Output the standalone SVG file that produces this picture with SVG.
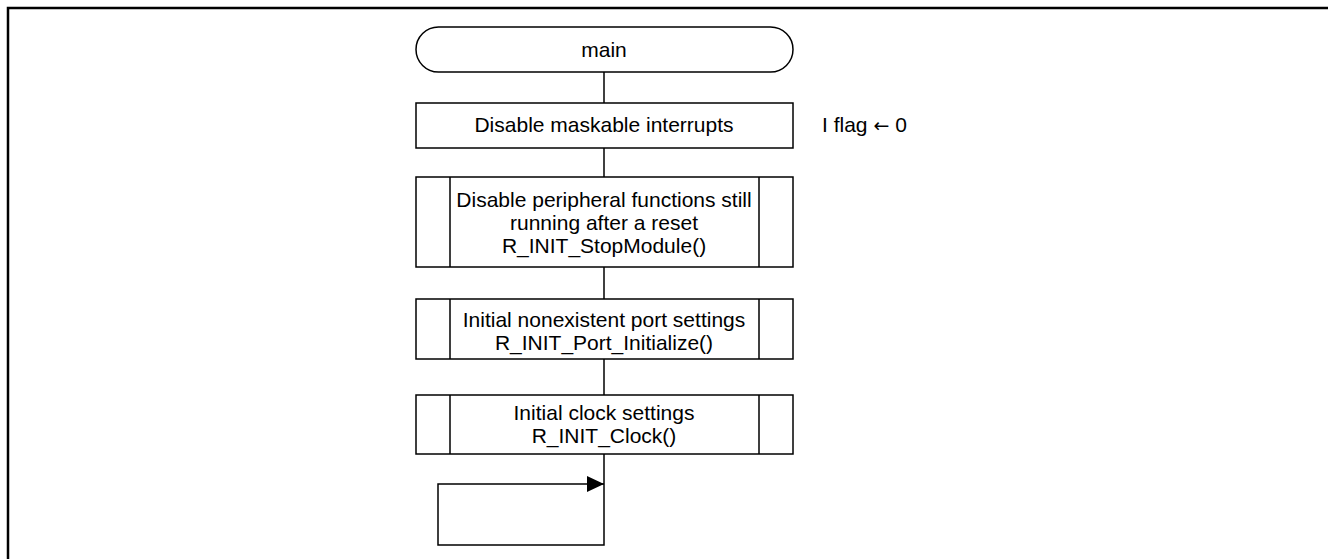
<svg xmlns="http://www.w3.org/2000/svg" width="1328" height="559" viewBox="0 0 1328 559">
<style>
.s{fill:#fff;stroke:#000;stroke-width:1.5}
.l{fill:none;stroke:#000;stroke-width:1.5}
.t{font-family:"Liberation Sans",Arial,sans-serif;font-size:21px;fill:#000;text-anchor:middle}
</style>
<defs>
<marker id="ah" markerWidth="17" markerHeight="16" refX="17" refY="8" orient="auto" markerUnits="userSpaceOnUse">
<path d="M0,0 L17,8 L0,16 Z" fill="#000"/>
</marker>
</defs>
<rect width="1328" height="559" fill="#fff"/>
<path d="M8,559 V8 H1328" fill="none" stroke="#000" stroke-width="2.5"/>
<g id="connectors">
<path class="l" d="M604,72 V103"/>
<path class="l" d="M604,148 V177"/>
<path class="l" d="M604,267 V299"/>
<path class="l" d="M604,359 V395"/>
<path class="l" d="M604,454 V545 H438 V484 H604" marker-end="url(#ah)"/>
</g>
<g id="main">
<rect class="s" x="416" y="27" width="377" height="45" rx="22.5"/>
<text class="t" x="604" y="57">main</text>
</g>
<g id="disable-int">
<rect class="s" x="416" y="103" width="377" height="45"/>
<text class="t" x="604" y="132">Disable maskable interrupts</text>
</g>
<g id="iflag">
<text class="t" x="822" y="132" style="text-anchor:start">I flag <tspan style="font-family:'DejaVu Sans',sans-serif;font-size:19px">←</tspan> 0</text>
</g>
<g id="stopmodule">
<rect class="s" x="416" y="177" width="377" height="90"/>
<path class="l" d="M450,177 V267 M759,177 V267"/>
<text class="t" x="604" y="207">Disable peripheral functions still</text>
<text class="t" x="604" y="230">running after a reset</text>
<text class="t" x="604" y="253">R_INIT_StopModule()</text>
</g>
<g id="port">
<rect class="s" x="416" y="299" width="377" height="60"/>
<path class="l" d="M450,299 V359 M759,299 V359"/>
<text class="t" x="604" y="327">Initial nonexistent port settings</text>
<text class="t" x="604" y="350">R_INIT_Port_Initialize()</text>
</g>
<g id="clock">
<rect class="s" x="416" y="395" width="377" height="59"/>
<path class="l" d="M450,395 V454 M759,395 V454"/>
<text class="t" x="604" y="420">Initial clock settings</text>
<text class="t" x="604" y="443">R_INIT_Clock()</text>
</g>
</svg>
